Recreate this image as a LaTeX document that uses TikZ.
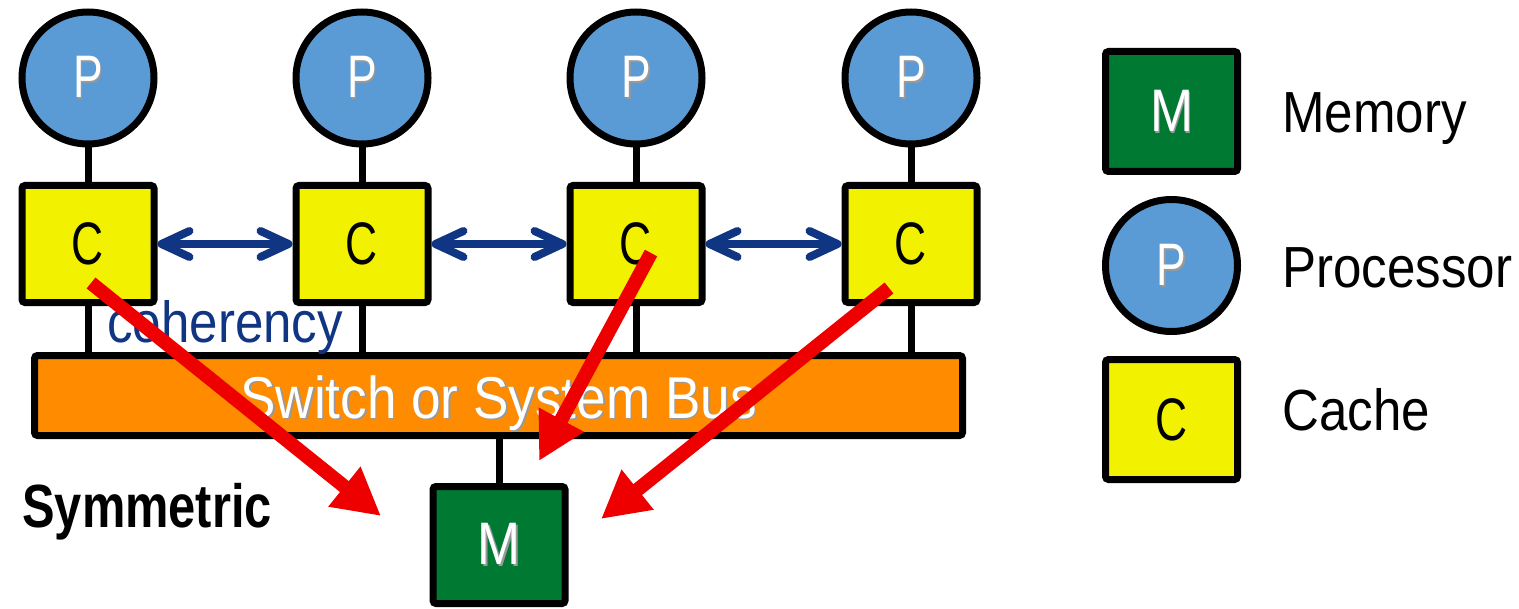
\documentclass[tikz,border=0pt]{standalone}
\usepackage{fontspec}
\setmainfont{Liberation Sans}[FakeStretch=0.88]
\newfontfamily\headfont{Liberation Sans}[FakeStretch=0.8]
\newfontfamily\letterfont{Liberation Sans}[FakeStretch=0.74]
\newfontfamily\memfont{Liberation Sans}[FakeStretch=0.86]
\newfontfamily\busfont{Liberation Sans}[FakeStretch=0.9]
\usetikzlibrary{arrows.meta,calc}

\definecolor{procblue}{HTML}{5B9BD5}
\definecolor{cacheyellow}{HTML}{F2F200}
\definecolor{memgreen}{HTML}{007A33}
\definecolor{busorange}{HTML}{FF8C00}
\definecolor{flowred}{HTML}{EE0000}
\definecolor{cohblue}{HTML}{0F3583}

% white lettering with a soft drop shadow
\newcommand\shadowed[1]{\leavevmode\rlap{\kern0.9pt\raisebox{-0.9pt}{\textcolor{black!40}{#1}}}#1}

\tikzset{
  labelfont/.style={font=\fontsize{29pt}{32pt}\selectfont},
  letter/.style={font=\letterfont\fontsize{30pt}{32pt}\selectfont},
  proc/.style={circle, draw=black, line width=3.5pt, fill=procblue,
    minimum size=66pt, inner sep=0pt, text=white, letter},
  cachebox/.style={rectangle, rounded corners=1.5pt, draw=black, line width=3.5pt,
    fill=cacheyellow, minimum width=66pt, minimum height=58.5pt, inner sep=0pt,
    text=black, letter},
  membox/.style={rectangle, rounded corners=1.5pt, draw=black, line width=3.5pt,
    fill=memgreen, minimum width=66pt, minimum height=58.5pt, inner sep=0pt,
    text=white, font=\memfont\fontsize{30pt}{32pt}\selectfont},
  busbox/.style={rectangle, rounded corners=1.5pt, draw=black, line width=3.5pt,
    fill=busorange, minimum width=464pt, minimum height=40pt, inner sep=0pt,
    text=white, font=\busfont\fontsize{29.5pt}{31pt}\selectfont,
    text height=22.5pt, text depth=0pt},
  link/.style={draw=black, line width=3.5pt},
  coh/.style={draw=cohblue, line width=4pt,
    {Straight Barb[length=14pt,width=13pt,line cap=round,line join=round]}-%
    {Straight Barb[length=14pt,width=13pt,line cap=round,line join=round]}},
  flow/.style={draw=flowred, line width=7pt,
    -{Triangle[length=23.5pt,width=24pt]}},
  legendtext/.style={anchor=base west, inner sep=0pt, text=black, labelfont},
}

\begin{document}
\begin{tikzpicture}[x=0.5pt,y=-0.5pt]
\useasboundingbox (0,0) rectangle (1519,609);

% processors and caches
\foreach \i/\x in {1/88, 2/362, 3/636, 4/911} {
  \node[proc] (p\i) at (\x,78) {\shadowed{P}};
  \node[cachebox] (c\i) at (\x,244) {C};
}

% shared bus and memory
\node[busbox] (bus) at (498.5,395.5) {\shadowed{Switch or System Bus}};
\node[membox] (mem) at (499,545) {\shadowed{M}};

% vertical links
\foreach \i in {1,...,4} {
  \draw[link] (p\i.south) -- (c\i.north);
  \draw[link] (c\i.south) -- (c\i.south |- bus.north);
}
\draw[link] (bus.south -| mem.north) -- (mem.north);

% coherency traffic between caches
\draw[coh] (c1.east) -- (c2.west);
\draw[coh] (c2.east) -- (c3.west);
\draw[coh] (c3.east) -- (c4.west);
\node[anchor=base west, inner sep=0pt, text=cohblue, labelfont] (cohlabel)
  at (107,342) {coherency};

\node[anchor=base west, inner sep=0pt, text=black,
  font=\headfont\bfseries\fontsize{30.5pt}{33pt}\selectfont] (title)
  at (22,527) {Symmetric};

% memory accesses
\coordinate (r1a) at (91,283);  \coordinate (r1b) at (381,516);
\coordinate (r2a) at (651,253); \coordinate (r2b) at (539,461);
\coordinate (r3a) at (889,288); \coordinate (r3b) at (601,519);
\draw[flow] (r1a) -- (r1b);
\draw[flow] (r2a) -- (r2b);
\draw[flow] (r3a) -- (r3b);

% legend
\node[membox, minimum height=60pt] (lm) at (1171.5,111.5) {\shadowed{M}};
\node[proc] (lp) at (1171.5,265.5) {\shadowed{P}};
\node[cachebox, minimum height=60pt] (lc) at (1171.5,419.5) {C};
\node[legendtext] (lmt) at (1282,133) {Memory};
\node[legendtext] (lpt) at (1282,287) {Processor};
\node[legendtext] (lct) at (1282,430) {Cache};
\end{tikzpicture}
\end{document}
